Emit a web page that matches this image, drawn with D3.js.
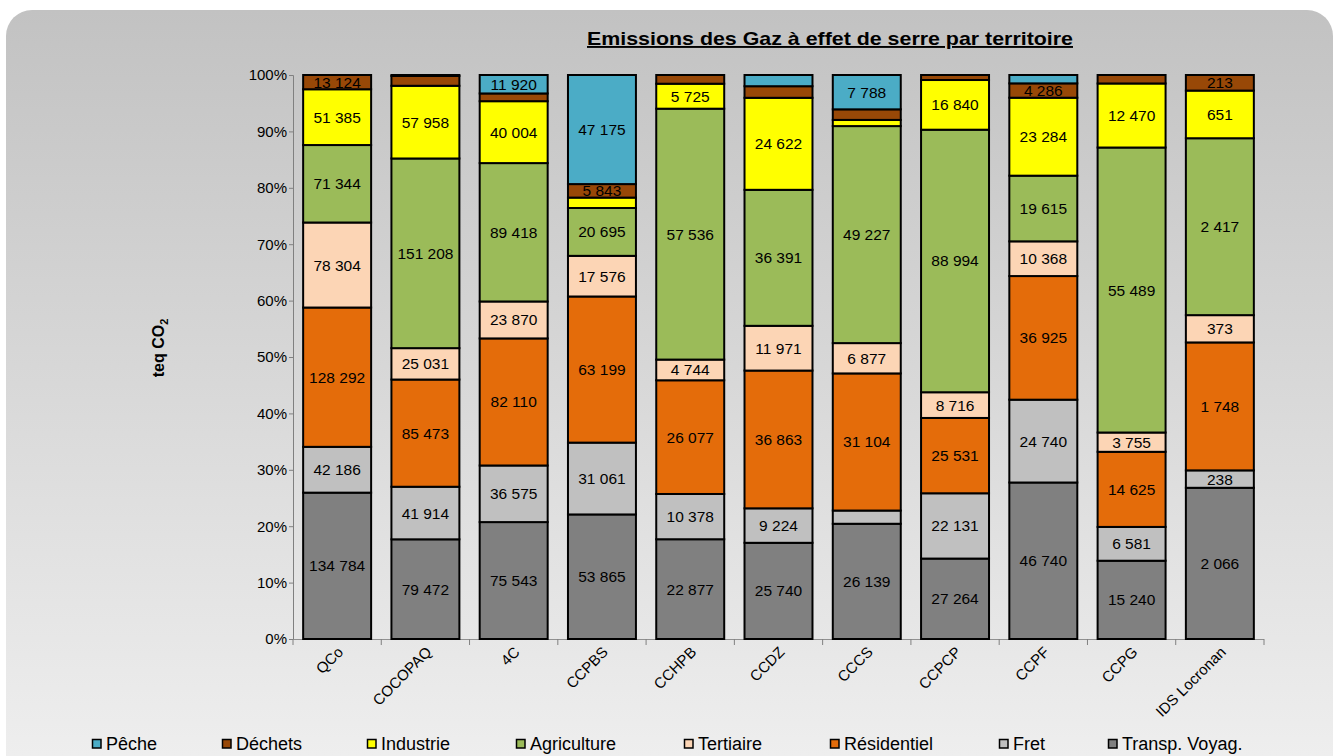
<!DOCTYPE html>
<html>
<head>
<meta charset="utf-8">
<script src="https://cdn.jsdelivr.net/npm/d3@7/dist/d3.min.js"></script>
<style>
  html, body { margin: 0; padding: 0; background: #ffffff; }
  svg { display: block; font-family: "Liberation Sans", Arial, sans-serif; }
</style>
</head>
<body>
<svg id="chart" width="1339" height="756"></svg>
<script>
// Territories (x categories)
const categories = ["QCo", "COCOPAQ", "4C", "CCPBS", "CCHPB", "CCDZ", "CCCS", "CCPCP", "CCPF", "CCPG", "IDS Locronan"];

// Emissions per sector, teq CO2 (stacked bottom to top)
const transpVoyag = [134784, 79472, 75543, 53865, 22877, 25740, 26139, 27264, 46740, 15240, 2066];
const fret        = [42186, 41914, 36575, 31061, 10378, 9224, 3000, 22131, 24740, 6581, 238];
const residentiel = [128292, 85473, 82110, 63199, 26077, 36863, 31104, 25531, 36925, 14625, 1748];
const tertiaire   = [78304, 25031, 23870, 17576, 4744, 11971, 6877, 8716, 10368, 3755, 373];
const agriculture = [71344, 151208, 89418, 20695, 57536, 36391, 49227, 88994, 19615, 55489, 2417];
const industrie   = [51385, 57958, 40004, 4500, 5725, 24622, 1400, 16840, 23284, 12470, 651];
const dechets     = [13124, 7800, 5000, 5843, 2000, 3100, 2400, 1700, 4286, 1650, 213];
const peche       = [0, 800, 11920, 47175, 0, 3000, 7788, 0, 2500, 0, 0];

// Segments too thin to carry a value label: [territory, sector]
const unlabeled = [
  ["COCOPAQ", "Déchets"], ["COCOPAQ", "Pêche"],
  ["4C", "Déchets"],
  ["CCPBS", "Industrie"],
  ["CCHPB", "Déchets"],
  ["CCDZ", "Déchets"], ["CCDZ", "Pêche"],
  ["CCCS", "Fret"], ["CCCS", "Industrie"], ["CCCS", "Déchets"],
  ["CCPCP", "Déchets"],
  ["CCPF", "Pêche"],
  ["CCPG", "Déchets"]
];

const yTicks = [0, 0.1, 0.2, 0.3, 0.4, 0.5, 0.6, 0.7, 0.8, 0.9, 1];

const series = [
  { key: "Transp. Voyag.", values: transpVoyag, color: "#808080" },
  { key: "Fret",           values: fret,        color: "#c0c0c0" },
  { key: "Résidentiel",    values: residentiel, color: "#e46c0a" },
  { key: "Tertiaire",      values: tertiaire,   color: "#fcd5b5" },
  { key: "Agriculture",    values: agriculture, color: "#9bbb59" },
  { key: "Industrie",      values: industrie,   color: "#ffff00" },
  { key: "Déchets",        values: dechets,     color: "#984807" },
  { key: "Pêche",          values: peche,       color: "#4bacc6" }
];

// Legend order (left to right) and swatch positions
const legendOrder = ["Pêche", "Déchets", "Industrie", "Agriculture", "Tertiaire", "Résidentiel", "Fret", "Transp. Voyag."];
const legendX = [92, 222, 367, 516, 684, 830, 999, 1108];

const rows = categories.map((c, i) => {
  const r = { cat: c };
  series.forEach(s => { r[s.key] = s.values[i]; });
  return r;
});

const svg = d3.select("#chart");
const W = 1339, H = 756;

// Panel background with vertical gradient and rounded corners
const defs = svg.append("defs");
const grad = defs.append("linearGradient").attr("id", "bg").attr("x1", 0).attr("y1", 0).attr("x2", 0).attr("y2", 1);
grad.append("stop").attr("offset", "0%").attr("stop-color", "#c2c2c2");
grad.append("stop").attr("offset", "100%").attr("stop-color", "#f0f0f0");
svg.append("rect").attr("width", W).attr("height", H).attr("fill", "#ffffff");
svg.append("rect").attr("x", 6).attr("y", 10).attr("width", 1327).attr("height", 780)
  .attr("rx", 26).attr("ry", 26).attr("fill", "url(#bg)");

const x = d3.scaleBand().domain(categories).range([293, 1264]).paddingInner(0.23).paddingOuter(0.115);
const y = d3.scaleLinear().domain([0, 1]).range([639, 75]);

const stack = d3.stack().keys(series.map(s => s.key)).offset(d3.stackOffsetExpand);
const stacked = stack(rows);
const colorOf = Object.fromEntries(series.map(s => [s.key, s.color]));
const hidden = new Set(unlabeled.map(p => p[0] + "|" + p[1]));

const fmt = d3.formatLocale({ decimal: ",", thousands: "\u00a0", grouping: [3], currency: ["", "€"] }).format(",d");

// Y axis
const yAxis = d3.axisLeft(y).tickValues(yTicks).tickFormat(d3.format(".0%")).tickSize(4).tickPadding(2);
const gy = svg.append("g").attr("transform", "translate(293,0)").call(yAxis);
gy.selectAll("text").attr("font-size", 15).attr("fill", "#000").attr("font-family", "Liberation Sans, Arial, sans-serif");
gy.select(".domain").attr("stroke", "#808080");
gy.selectAll(".tick line").attr("stroke", "#808080");

// X axis: line, ticks at band boundaries, rotated labels
const step = x.step();
const gx = svg.append("g");
gx.append("line").attr("x1", 293).attr("x2", 293 + step * categories.length).attr("y1", 639.5).attr("y2", 639.5).attr("stroke", "#909090");
gx.selectAll("line.t").data(d3.range(categories.length + 1)).join("line")
  .attr("class", "t")
  .attr("x1", i => 293 + i * step).attr("x2", i => 293 + i * step)
  .attr("y1", 639).attr("y2", 645).attr("stroke", "#808080");
gx.selectAll("text").data(categories).join("text")
  .attr("transform", d => `translate(${x(d) + x.bandwidth() / 2 + 7},${653}) rotate(-45)`)
  .attr("text-anchor", "end").attr("font-size", 15).attr("fill", "#000")
  .text(d => d);

// Bars
const layers = svg.append("g").selectAll("g").data(stacked).join("g").attr("fill", d => colorOf[d.key]);
layers.selectAll("rect").data(d => d.filter(p => p[1] - p[0] > 0)).join("rect")
  .attr("x", d => x(d.data.cat))
  .attr("y", d => y(d[1]))
  .attr("width", x.bandwidth())
  .attr("height", d => y(d[0]) - y(d[1]))
  .attr("stroke", "#000").attr("stroke-width", 2);

// Value labels
const lbl = svg.append("g").attr("font-size", 15.5).attr("fill", "#000").attr("text-anchor", "middle");
stacked.forEach(layer => {
  layer.forEach(p => {
    const v = p.data[layer.key];
    if (!v || hidden.has(p.data.cat + "|" + layer.key)) return;
    lbl.append("text")
      .attr("x", x(p.data.cat) + x.bandwidth() / 2)
      .attr("y", (y(p[0]) + y(p[1])) / 2 + 5.5)
      .text(fmt(v));
  });
});

// Title
svg.append("text").attr("x", 830).attr("y", 45).attr("text-anchor", "middle")
  .attr("font-size", 19).attr("font-weight", "bold").attr("text-decoration", "underline")
  .attr("textLength", 486).attr("lengthAdjust", "spacingAndGlyphs")
  .text("Emissions des Gaz à effet de serre par territoire");

// Y axis title
const yt = svg.append("text").attr("transform", "translate(164,348) rotate(-90)")
  .attr("text-anchor", "middle").attr("font-size", 16).attr("font-weight", "bold");
yt.append("tspan").text("teq CO");
yt.append("tspan").attr("font-size", 11).attr("dy", 4).text("2");

// Legend
const lg = svg.append("g");
legendOrder.forEach((k, i) => {
  const g = lg.append("g").attr("transform", `translate(${legendX[i]},750)`);
  g.append("rect").attr("x", 0.5).attr("y", -10.5).attr("width", 8.5).attr("height", 8.5)
    .attr("fill", colorOf[k]).attr("stroke", "#000").attr("stroke-width", 1.5);
  g.append("text").attr("x", 14).attr("y", 0).attr("font-size", 18).attr("fill", "#000").text(k);
});
</script>
</body>
</html>
